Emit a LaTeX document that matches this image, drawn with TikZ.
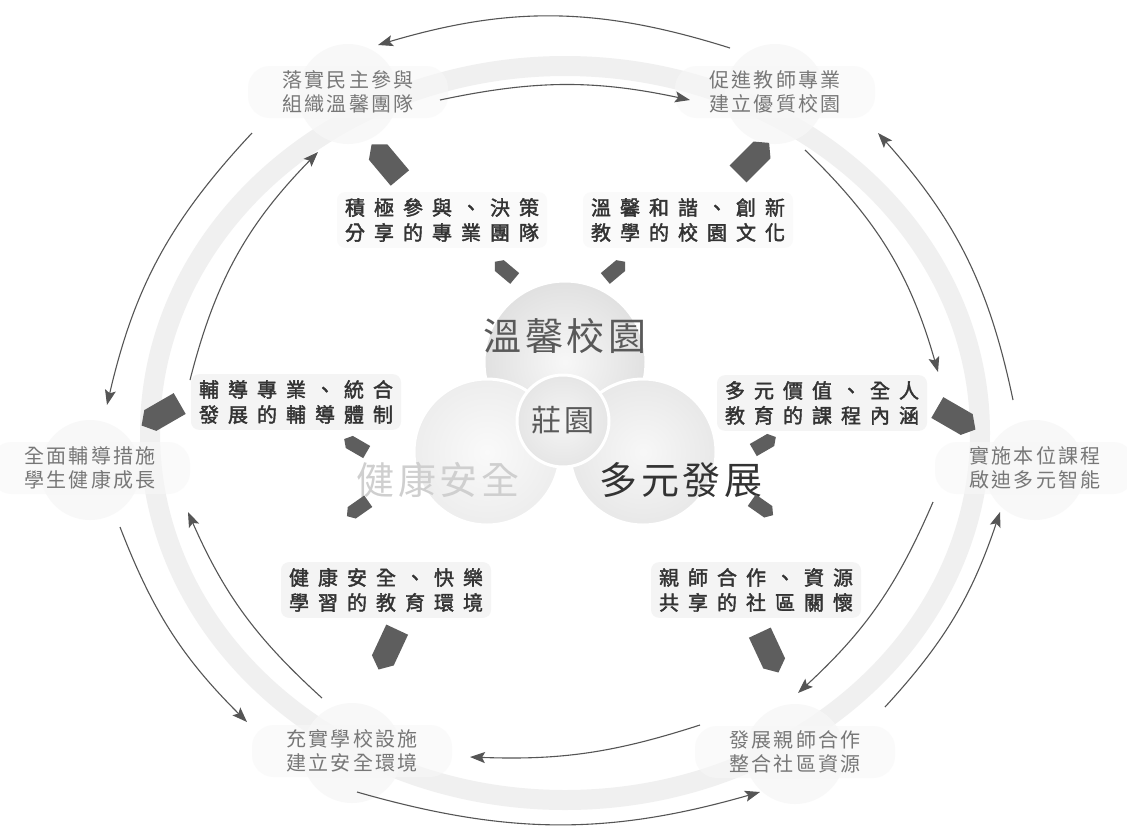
\documentclass[tikz,border=0pt]{standalone}
\usepackage{fontspec}
\setmainfont{Noto Sans CJK TC}
\newfontfamily\goalfont[LetterSpace=12]{Noto Sans CJK TC}
\newfontfamily\labfont[LetterSpace=45,FakeBold=2]{Noto Sans CJK TC}
\newfontfamily\bigfont[LetterSpace=10]{Noto Sans CJK TC}
\usetikzlibrary{arrows.meta,shapes.symbols,backgrounds}
\definecolor{goaltxt}{HTML}{777777}
\definecolor{labtxt}{HTML}{333333}
\definecolor{tagc}{HTML}{5E5E5E}
\definecolor{arrc}{HTML}{555555}
\begin{document}
\begin{tikzpicture}[x=1pt,y=-1pt,
  goal/.style={text=goaltxt,font=\goalfont\fontsize{20}{24}\selectfont,align=center,inner sep=0},
  lab/.style={text=labtxt,font=\labfont\fontsize{20}{25}\selectfont,align=center,fill=gray!9,rounded corners=8,inner xsep=8,inner ysep=6},
  labfaint/.style={lab,fill=gray!4},
  tagbig/.style={shape=signal,signal to=east,signal pointer angle=100,fill=tagc,minimum width=44,minimum height=24,inner sep=0},
  tagsmall/.style={tagbig,minimum width=26,minimum height=14},
  arr/.style={draw=arrc,line width=1.1pt,-{Stealth[length=15pt,width=11pt,inset=3pt]}},
  blob/.style={fill=gray!6},
  venn/.style={circle,draw=white,line width=3pt,inner sep=0}]
\useasboundingbox (0,0) rectangle (1127,831);

% goal nodes
\node[goal] (tl) at (348,92) {落實民主參與\\組織溫馨團隊};
\node[goal] (tr) at (775,92) {促進教師專業\\建立優質校園};
\node[goal] (l)  at (90,468) {全面輔導措施\\學生健康成長};
\node[goal] (r)  at (1035,468) {實施本位課程\\啟迪多元智能};
\node[goal] (bl) at (352,751) {充實學校設施\\建立安全環境};
\node[goal] (br) at (795,752) {發展親師合作\\整合社區資源};

\begin{scope}[on background layer]
  \fill[white] (0,0) rectangle (1127,831);
  % ring
  \draw[gray!12,line width=20pt] (565,433) ellipse [x radius=415,y radius=367];
  \foreach \n in {tl,tr,l,r,bl,br}{
    \fill[blob,opacity=0.8] ([yshift=-2]\n.center) circle [radius=50];
    \fill[blob,opacity=0.6,rounded corners=22] ([xshift=-100,yshift=26]\n.center) rectangle ([xshift=100,yshift=-26]\n.center);
  }
\end{scope}

% venn circles
\node[venn,minimum size=162,inner color=gray!6,outer color=gray!24] (c1) at (565,362) {};
\node[venn,minimum size=146,inner color=gray!4,outer color=gray!14] (c2) at (487,452) {};
\node[venn,minimum size=146,inner color=gray!6,outer color=gray!18] (c3) at (643,452) {};
\node[venn,minimum size=92,inner color=gray!8,outer color=gray!20] (c4) at (563,421) {};
\node[text=gray!70!black,font=\bigfont\fontsize{38}{40}\selectfont] (t1) at (565,336) {溫馨校園};
\node[text=gray!38,font=\bigfont\fontsize{38}{40}\selectfont] (t2) at (438,480) {健康安全};
\node[text=labtxt,font=\bigfont\fontsize{38}{40}\selectfont] (t3) at (681,480) {多元發展};
\node[text=gray!70!black,font=\bigfont\fontsize{30}{32}\selectfont] (t4) at (563,420) {莊園};

% labels
\node[labfaint] (p1) at (442,220) {積極參與、決策\\分享的專業團隊};
\node[labfaint] (p2) at (688,220) {溫馨和諧、創新\\教學的校園文化};
\node[lab] (p3) at (296,402) {輔導專業、統合\\發展的輔導體制};
\node[lab] (p4) at (822,403) {多元價值、全人\\教育的課程內涵};
\node[lab] (p5) at (386,590) {健康安全、快樂\\學習的教育環境};
\node[lab] (p6) at (756,590) {親師合作、資源\\共享的社區關懷};

% tags
\node[tagbig,rotate=130] (g1o) at (389,165) {};
\node[tagsmall,rotate=140] (g1i) at (507,272) {};
\node[tagbig,rotate=45] (g2o) at (750,162) {};
\node[tagsmall,rotate=40] (g2i) at (613,272) {};
\node[tagbig,rotate=210] (g3o) at (165,412) {};
\node[tagsmall,rotate=150] (g3i) at (358,447) {};
\node[tagbig,rotate=330] (g4o) at (952,416) {};
\node[tagsmall,rotate=30] (g4i) at (762,445) {};
\node[tagbig,rotate=245] (g5o) at (390,645) {};
\node[tagsmall,rotate=215] (g5i) at (360,507) {};
\node[tagbig,rotate=295] (g6o) at (767,648) {};
\node[tagsmall,rotate=325] (g6i) at (760,506) {};

% arrow end points
\coordinate (a1s) at (730,48);  \coordinate (a1e) at (378,45);
\coordinate (a2s) at (440,100); \coordinate (a2e) at (690,100);
\coordinate (a3s) at (1013,400); \coordinate (a3e) at (878,133);
\coordinate (a4s) at (805,150); \coordinate (a4e) at (938,372);
\coordinate (a5s) at (885,707); \coordinate (a5e) at (1000,512);
\coordinate (a6s) at (933,502); \coordinate (a6e) at (798,693);
\coordinate (a7s) at (700,725); \coordinate (a7e) at (470,757);
\coordinate (a8s) at (357,792); \coordinate (a8e) at (760,792);
\coordinate (a9s) at (120,527); \coordinate (a9e) at (247,722);
\coordinate (a10s) at (322,698); \coordinate (a10e) at (188,512);
\coordinate (a11s) at (252,133); \coordinate (a11e) at (107,405);
\coordinate (a12s) at (190,380); \coordinate (a12e) at (318,152);

\draw[arr] (a1s) to[bend right=17] (a1e);
\draw[arr] (a2s) to[bend left=12] (a2e);
\draw[arr] (a3s) to[bend right=15] (a3e);
\draw[arr] (a4s) to[bend left=15] (a4e);
\draw[arr] (a5s) to[bend right=12] (a5e);
\draw[arr] (a6s) to[bend left=12] (a6e);
\draw[arr] (a7s) to[bend left=10] (a7e);
\draw[arr] (a8s) to[bend right=16] (a8e);
\draw[arr] (a9s) to[bend right=12] (a9e);
\draw[arr] (a10s) to[bend left=12] (a10e);
\draw[arr] (a11s) to[bend right=15] (a11e);
\draw[arr] (a12s) to[bend left=15] (a12e);
\end{tikzpicture}
\end{document}
